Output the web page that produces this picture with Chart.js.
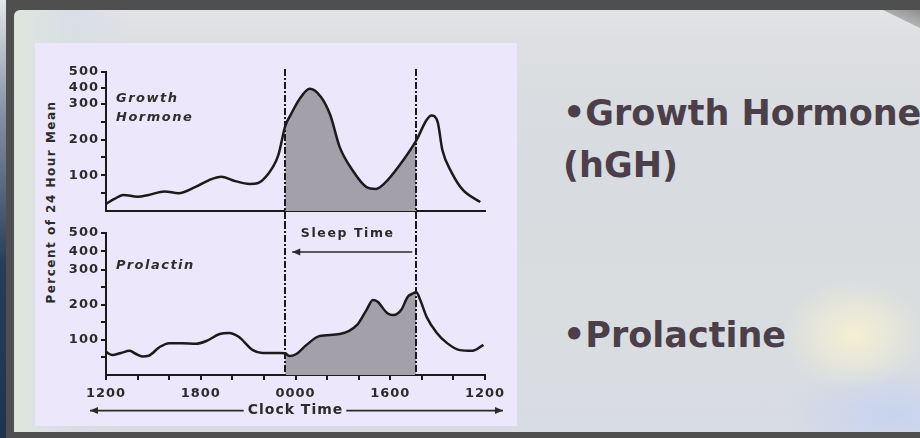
<!DOCTYPE html>
<html>
<head>
<meta charset="utf-8">
<script src="https://cdn.jsdelivr.net/npm/chart.js@4"></script>
<style>
  html, body { margin: 0; width: 920px; height: 438px; overflow: hidden; background: #4f4f4f; font-family: "DejaVu Sans", sans-serif; }
  #edge { position: absolute; left: 0; top: 0; width: 6px; height: 438px; background: linear-gradient(180deg, #e4e6e8 0%, #8a93a3 25%, #2c3c58 60%, #22324e 100%); }
  #slide {
    position: absolute; left: 14px; top: 10px; width: 906px; height: 422px; border-top-left-radius: 6px;
    background:
      radial-gradient(ellipse 70px 55px at 840px 325px, rgba(246,242,210,0.9), rgba(246,242,210,0)),
      radial-gradient(ellipse 110px 50px at 880px 405px, rgba(198,210,240,0.95), rgba(198,210,240,0)),
      linear-gradient(90deg, #dfe6de 0px, #d9dde5 60px, rgba(0,0,0,0) 120px),
      linear-gradient(180deg, #e3e4e6 0px, #dcdee1 35px, #d8dbdf 140px, #dadddf 300px, #d8dce3 422px);
  }
  #curl { position: absolute; left: 883px; top: 10px; width: 37px; height: 18px; background: linear-gradient(200deg, #8f8f8f, #cfcfcf); clip-path: polygon(0 0, 100% 0, 100% 100%); }
  #panel { position: absolute; left: 35px; top: 43px; width: 482px; height: 383px; background: #ece7fa; }
  .plot { position: absolute; left: 35px; width: 482px; }
  #ghBox { top: 55px; height: 167px; }
  #prlBox { top: 222px; height: 204px; }
  #yTitle {
    position: absolute; left: 51px; top: 202px; transform: translate(-50%, -50%) rotate(-90deg);
    white-space: nowrap; font: bold 12px "DejaVu Sans", sans-serif; letter-spacing: 1.5px; color: #2b2b2b;
  }
  .bullet { position: absolute; left: 563px; white-space: nowrap; font: bold 35px/52px "DejaVu Sans", sans-serif; color: #4b3f4a; }
</style>
</head>
<body>
<div id="edge"></div>
<div id="slide"></div>
<div id="curl"></div>
<div id="panel"></div>
<div id="yTitle">Percent of 24 Hour Mean</div>
<div class="plot" id="ghBox"><canvas id="ghChart"></canvas></div>
<div class="plot" id="prlBox"><canvas id="prlChart"></canvas></div>
<div class="bullet" style="top: 87px;">•Growth Hormone<br>(hGH)</div>
<div class="bullet" style="top: 309px;">•Prolactine</div>

<script>
// hours after 12:00, percent of 24 hour mean
const sleepStart = 11.35;
const sleepEnd = 19.65;

const ghHours = [0, 0.5, 1.1, 2.0, 2.7, 3.7, 4.6, 5.6, 6.5, 7.3, 8.1, 9.1, 9.6, 10.2, 10.9,
  11.35, 11.7, 12.25, 12.9, 13.6, 14.2, 14.8, 15.6, 16.5, 17.1, 17.65, 18.6,
  19.65, 20.3, 20.6, 21.0, 21.3, 21.9, 22.6, 23.7];
const ghPercent = [20, 33, 45, 40, 45, 55, 50, 66, 86, 96, 85, 76, 78, 100, 155,
  238, 270, 330, 395, 345, 269, 179, 115, 67, 62, 78, 129,
  198, 255, 268, 250, 171, 107, 59, 25];

const prlHours = [0, 0.4, 0.95, 1.5, 1.9, 2.3, 2.7, 3.4, 4.0, 4.8, 5.7, 6.35, 7.2, 7.8, 8.4, 9.3, 9.9, 11.0,
  11.35, 11.6, 12.05, 12.7, 13.5, 14.8, 15.9, 16.5, 16.9, 17.2, 17.8, 18.2, 18.7, 19.1, 19.4,
  19.65, 19.9, 20.3, 20.95, 21.6, 22.4, 23.2, 23.9];
const prlPercent = [66, 57, 63, 69, 60, 53, 55, 80, 91, 91, 89, 97, 117, 120, 109, 71, 63, 63,
  62, 54, 60, 86, 111, 117, 143, 186, 214, 209, 177, 171, 186, 223, 232,
  236, 214, 166, 120, 91, 71, 69, 86];

const xTickHours = [0, 2, 4, 6, 8, 10, 12, 14, 16, 18, 20, 22, 24];
const clockHours = [0, 6, 12, 18, 24];
const clockLabels = ["1200", "1800", "0000", "1600", "1200"];
const yTickValues = [50, 100, 150, 200, 250, 300, 400, 500];

const ink = "#1b1b1b";
const shade = "#a4a0aa";

Chart.defaults.font.family = '"DejaVu Sans", sans-serif';
Chart.defaults.color = "#2b2b2b";

//=[ Axis squeezed above 300 ]==================================================

class BrokenScale extends Chart.LinearScale {
  static id = "broken";
  static defaults = Chart.LinearScale.defaults;
  toDecimal(v) {
    const s = this.options.split;
    return v <= 300 ? (v / 300) * s : s + ((v - 300) / 200) * (1 - s);
  }
  getPixelForValue(v) {
    return v == null || isNaN(v) ? NaN : this.getPixelForDecimal(this.toDecimal(v));
  }
  getValueForPixel(p) {
    const d = this.getDecimalForPixel(p);
    const s = this.options.split;
    return d <= s ? (d / s) * 300 : 300 + ((d - s) / (1 - s)) * 200;
  }
}
Chart.register(BrokenScale);

//=[ Shared bits ]==============================================================

const shadeSleep = (c) =>
  c.p0.parsed.x >= sleepStart - 1e-6 && c.p1.parsed.x <= sleepEnd + 1e-6 ? shade : undefined;

const curve = (hours, values) => ({
  data: hours.map((h, i) => ({ x: h, y: values[i] })),
  borderColor: ink,
  borderWidth: 2.5,
  pointRadius: 0,
  cubicInterpolationMode: "monotone",
  fill: "origin",
  backgroundColor: "rgba(0,0,0,0)",
  segment: { backgroundColor: shadeSleep },
});

const yAxis = (split) => ({
  type: "broken",
  split: split,
  min: 0,
  max: 500,
  afterBuildTicks: (s) => { s.ticks = yTickValues.map((v) => ({ value: v })); },
  afterFit: (s) => { s.width = 71; },
  ticks: {
    callback: (v) => (v % 100 === 0 ? String(v) : ""),
    font: { size: 13, weight: "bold" },
    padding: 2,
  },
  grid: { drawOnChartArea: false, tickLength: 5, color: ink, lineWidth: 2 },
  border: { color: ink, width: 2 },
});

const looks = {
  id: "looks",
  beforeDraw(chart) {
    chart.ctx.letterSpacing = "1px";
  },
  afterDatasetsDraw(chart, args, o) {
    const { ctx, chartArea: a, scales: { x } } = chart;
    ctx.save();
    // sleep onset / offset
    ctx.strokeStyle = ink;
    ctx.lineWidth = 2;
    ctx.setLineDash([7, 2, 2, 2]);
    for (const h of [sleepStart, sleepEnd]) {
      const px = Math.round(x.getPixelForValue(h));
      ctx.beginPath();
      ctx.moveTo(px, o.fromCanvasTop ? 0 : a.top - 3);
      ctx.lineTo(px, o.fromCanvasTop ? a.bottom : chart.height);
      ctx.stroke();
    }
    ctx.setLineDash([]);
    // hormone name
    ctx.fillStyle = "#2e2e2e";
    ctx.font = 'italic bold 13px "DejaVu Sans"';
    ctx.letterSpacing = "1.5px";
    ctx.textBaseline = "middle";
    o.name.forEach((t, i) => ctx.fillText(t, a.left + 10, a.top + o.nameTop + i * 19));
    ctx.restore();
  },
};

const arrow = (ctx, x0, x1, y, heads) => {
  ctx.beginPath();
  ctx.moveTo(x0, y);
  ctx.lineTo(x1, y);
  ctx.stroke();
  for (const [hx, dir] of heads) {
    ctx.beginPath();
    ctx.moveTo(hx, y);
    ctx.lineTo(hx + dir * 8, y - 3.5);
    ctx.lineTo(hx + dir * 8, y + 3.5);
    ctx.closePath();
    ctx.fill();
  }
};

const sleepAndClock = {
  id: "sleepAndClock",
  afterDraw(chart) {
    const { ctx, chartArea: a, scales: { x } } = chart;
    const xs = x.getPixelForValue(sleepStart);
    const xe = x.getPixelForValue(sleepEnd);
    ctx.save();
    ctx.fillStyle = "#2b2b2b";
    ctx.strokeStyle = "#2b2b2b";
    ctx.lineWidth = 1.6;
    ctx.font = 'bold 12.5px "DejaVu Sans"';
    ctx.letterSpacing = "1.6px";
    ctx.textAlign = "center";
    ctx.textBaseline = "middle";
    ctx.fillText("Sleep Time", (xs + xe) / 2 - 3, a.top + 1);
    arrow(ctx, xs + 7, xe - 4, a.top + 19, [[xs + 7, 1]]);
    // arrows either side of the x title
    ctx.font = 'bold 14px "DejaVu Sans"';
    ctx.letterSpacing = "1px";
    const w = ctx.measureText("Clock Time").width;
    const cx = (a.left + a.right) / 2;
    const y = x.bottom - 7 - 8.4;
    arrow(ctx, a.left - 16, cx - w / 2 - 4, y, [[a.left - 16, 1]]);
    arrow(ctx, cx + w / 2 + 3, a.right + 18, y, [[a.right + 18, -1]]);
    ctx.restore();
  },
};

//=[ Growth hormone ]===========================================================

new Chart(document.getElementById("ghChart"), {
  type: "line",
  data: { datasets: [curve(ghHours, ghPercent)] },
  options: {
    responsive: true,
    maintainAspectRatio: false,
    animation: false,
    events: [],
    layout: { padding: { left: 0, right: 32, top: 17, bottom: 11 } },
    scales: {
      x: {
        type: "linear",
        min: 0,
        max: 24,
        ticks: { display: false },
        grid: { display: false },
        border: { color: ink, width: 2 },
        afterFit: (s) => { s.height = 0; },
      },
      y: yAxis(0.77),
    },
    plugins: {
      legend: { display: false },
      tooltip: { enabled: false },
      looks: { name: ["Growth", "Hormone"], nameTop: 27, fromCanvasTop: false },
    },
  },
  plugins: [looks],
});

//=[ Prolactin ]================================================================

new Chart(document.getElementById("prlChart"), {
  type: "line",
  data: { datasets: [curve(prlHours, prlPercent)] },
  options: {
    responsive: true,
    maintainAspectRatio: false,
    animation: false,
    events: [],
    layout: { padding: { left: 0, right: 32, top: 11, bottom: 0 } },
    scales: {
      x: {
        type: "linear",
        min: 0,
        max: 24,
        afterBuildTicks: (s) => { s.ticks = xTickHours.map((v) => ({ value: v })); },
        afterFit: (s) => { s.height = 51; },
        ticks: {
          autoSkip: false,
          maxRotation: 0,
          padding: 6,
          font: { size: 13, weight: "bold" },
          callback: (v) => {
            const i = clockHours.indexOf(v);
            return i < 0 ? "" : clockLabels[i];
          },
        },
        grid: { drawOnChartArea: false, tickLength: 5, color: ink, lineWidth: 2 },
        border: { color: ink, width: 2 },
        title: {
          display: true,
          text: "Clock Time",
          color: "#2b2b2b",
          font: { size: 14, weight: "bold" },
          padding: { top: 0, bottom: 7 },
        },
      },
      y: yAxis(0.74),
    },
    plugins: {
      legend: { display: false },
      tooltip: { enabled: false },
      looks: { name: ["Prolactin"], nameTop: 33, fromCanvasTop: true },
    },
  },
  plugins: [looks, sleepAndClock],
});
</script>
</body>
</html>
